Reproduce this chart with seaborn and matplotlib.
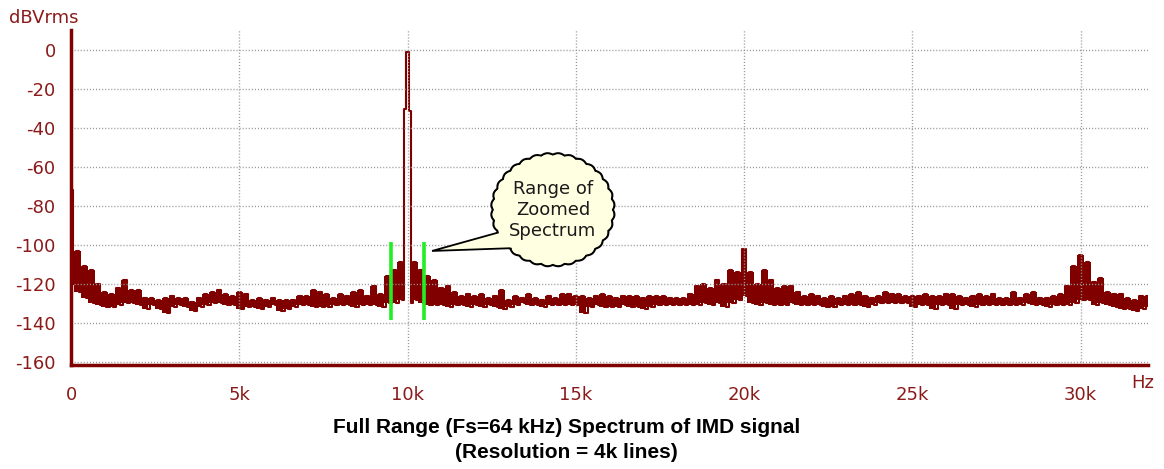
import numpy as np
import pandas as pd
import matplotlib
matplotlib.use('Agg')
import matplotlib.pyplot as plt
from matplotlib.patches import Polygon
from matplotlib.ticker import MultipleLocator, FixedLocator, FixedFormatter
import seaborn as sns

# spectrum: one bin per 200 Hz,
# max (hi) and min (lo) of the trace inside each bin, in dBVrms
bin_hz = np.arange(0, 32001, 200)

# 0 .. 8.4k
hi_a = [-72, -103, -111, -113, -120, -124, -125, -122, -118, -123, -123, -127, -127, -128, -127,
        -126, -127, -127, -129, -127, -125, -124, -123, -125, -126, -124, -125, -128, -127, -128,
        -127, -128, -128, -128, -126, -126, -123, -124, -125, -127, -125, -126, -124]
lo_a = [-120, -124, -127, -130, -131, -132, -132, -131, -130, -130, -131, -133, -131, -133, -135,
        -132, -131, -132, -134, -132, -131, -130, -130, -131, -131, -133, -132, -132, -133, -132,
        -131, -134, -133, -132, -131, -131, -132, -132, -132, -131, -131, -131, -132]
# 8.6k .. 17k  (10k bin holds the carrier)
hi_b = [-123, -126, -121, -125, -116, -113, -109, -1.5, -109, -113, -116, -118, -122, -121, -124,
        -126, -125, -126, -125, -127, -126, -123, -128, -126, -127, -125, -127, -128, -126, -127,
        -125, -125, -126, -126, -127, -126, -125, -126, -127, -126, -126, -126, -127]
lo_b = [-131, -131, -131, -132, -130, -130, -128, -130, -128, -130, -131, -131, -131, -132, -131,
        -131, -132, -131, -132, -131, -132, -133, -132, -131, -130, -131, -131, -132, -131, -131,
        -131, -131, -131, -135, -132, -131, -132, -132, -132, -131, -132, -132, -133]
# 17.2k .. 25.6k
hi_c = [-126, -126, -126, -127, -127, -127, -125, -121, -120, -122, -118, -120, -113, -114, -102,
        -114, -120, -113, -118, -122, -121, -121, -124, -126, -125, -126, -127, -126, -127, -126,
        -125, -124, -126, -127, -126, -124, -125, -125, -126, -126, -126, -125, -126]
lo_c = [-132, -131, -131, -131, -131, -131, -131, -131, -130, -131, -130, -132, -130, -128, -126,
        -130, -131, -130, -131, -131, -131, -130, -131, -131, -131, -131, -132, -132, -131, -131,
        -131, -131, -132, -131, -130, -130, -130, -130, -130, -132, -131, -131, -133]
# 25.8k .. 32k
hi_d = [-126, -125, -125, -126, -127, -126, -125, -126, -125, -127, -127, -124, -127, -125, -124,
        -127, -127, -126, -125, -121, -111, -105, -109, -119, -117, -124, -125, -125, -127, -128,
        -126, -126]
lo_d = [-131, -131, -133, -131, -131, -132, -131, -131, -131, -131, -131, -131, -131, -130, -131,
        -131, -132, -131, -131, -131, -130, -128, -128, -131, -130, -131, -132, -133, -133, -134,
        -133, -132]

# sidebands next to the 10k carrier
sideband_hz = [9910, 10090]
sideband_db = [-30.5, -31.5]

# markers for the zoomed range
zoom_hz = [9500, 10500]
zoom_top = -98.5
zoom_bottom = -138.5

x_ticks = [0, 5000, 10000, 15000, 20000, 25000, 30000]
x_labels = ['0', '5k', '10k', '15k', '20k', '25k', '30k']
y_ticks = [0, -20, -40, -60, -80, -100, -120, -140, -160]

RED = '#800000'
TXT = '#8b1a1a'

hi = np.array(hi_a + hi_b + hi_c + hi_d)
lo = np.array(lo_a + lo_b + lo_c + lo_d)
trace = pd.concat([
    pd.DataFrame({'hz': bin_hz, 'db': hi}),
    pd.DataFrame({'hz': bin_hz + 100, 'db': lo}),
    pd.DataFrame({'hz': sideband_hz, 'db': sideband_db}),
]).sort_values('hz').reset_index(drop=True)

sns.set_style('white')
plt.rcParams['font.family'] = ['DejaVu Sans']
plt.rcParams['axes.unicode_minus'] = False

fig = plt.figure(figsize=(11.64, 4.69), dpi=100)
ax = fig.add_axes([0.061, 0.2217, 0.9251, 0.7143])

# noise body (carrier bin left open, it is only outlined)
ax.fill_between(bin_hz, lo, hi, where=hi < -60, step='mid', color=RED, lw=0, zorder=2)
sns.lineplot(data=trace, x='hz', y='db', estimator=None, sort=True,
             drawstyle='steps-mid', color=RED, lw=1.5, ax=ax, legend=False)

ax.vlines(zoom_hz, zoom_bottom, zoom_top, color='#22ee22', lw=2.6, zorder=4)

ax.set_xlim(0, 32000)
ax.set_ylim(-161.5, 10)
ax.set_xlabel('')
ax.set_ylabel('')

ax.xaxis.set_major_locator(FixedLocator(x_ticks))
ax.xaxis.set_major_formatter(FixedFormatter(x_labels))
ax.xaxis.set_minor_locator(MultipleLocator(1000))
ax.yaxis.set_major_locator(FixedLocator(y_ticks))
ax.yaxis.set_minor_locator(MultipleLocator(5))

ax.tick_params(which='both', direction='out', color=RED, width=1.5)
ax.tick_params(which='major', length=6, labelsize=13, labelcolor=TXT)
ax.tick_params(which='minor', length=3.5)
ax.tick_params(axis='x', which='major', pad=9)
ax.tick_params(axis='y', which='major', pad=5)

ax.set_axisbelow(False)
ax.grid(True, which='major', color='#9a9a9a', lw=1, linestyle=(0, (0.8, 1.4)))

for s in ['top', 'right']:
    ax.spines[s].set_visible(False)
for s in ['left', 'bottom']:
    ax.spines[s].set_color(RED)
    ax.spines[s].set_linewidth(2.5)
    ax.spines[s].set_zorder(5)

# callout bubble
cx, cy, w, h = 14320, -82, 3566, 56.4
t = np.linspace(0, 2 * np.pi, 720)
bump = 1 + 0.03 * np.abs(np.sin(16 * t))
outer = np.column_stack([cx + w / 2 * bump * np.cos(t), cy + h / 2 * bump * np.sin(t)])
inner = np.column_stack([cx + w / 2 * 0.975 * bump * np.cos(t), cy + h / 2 * 0.975 * bump * np.sin(t)])
ax.add_patch(Polygon(outer, closed=True, fc='#ffffe1', ec='black', lw=1.5, zorder=6))
ax.add_patch(Polygon([(10730, -103.1), (13190, -91.3), (13400, -101.5)], closed=True,
                     fc='#ffffe1', ec='black', lw=1.3, zorder=7))
ax.add_patch(Polygon(inner, closed=True, fc='#ffffe1', ec='none', zorder=8))
ax.text(cx, cy, 'Range of\nZoomed\nSpectrum', ha='center', va='center', fontsize=13,
        color='#1a1a1a', linespacing=1.2, zorder=9)

fig.text(0.008, 0.962, 'dBVrms', color=TXT, fontsize=13, ha='left', va='center')
fig.text(0.972, 0.183, 'Hz', color=TXT, fontsize=13, ha='left', va='center')

fig.text(0.487, 0.089, 'Full Range (Fs=64 kHz) Spectrum of IMD signal',
         family=['Liberation Sans', 'DejaVu Sans'], fontweight='bold', fontsize=15,
         ha='center', va='center', color='black')
fig.text(0.487, 0.036, '(Resolution = 4k lines)',
         family=['Liberation Sans', 'DejaVu Sans'], fontweight='bold', fontsize=15,
         ha='center', va='center', color='black')

fig.savefig('out.png', dpi=100, facecolor='white')
